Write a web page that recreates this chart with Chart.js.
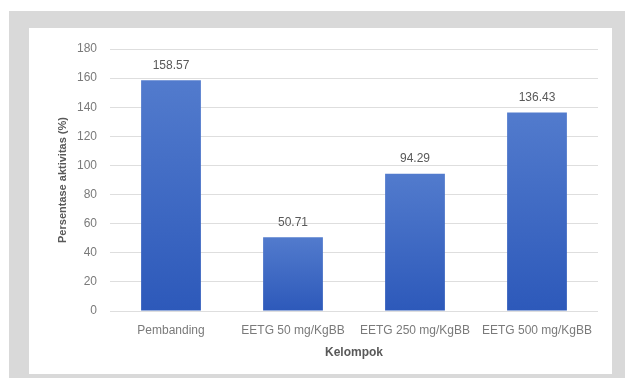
<!DOCTYPE html>
<html>
<head>
<meta charset="utf-8">
<script src="https://cdn.jsdelivr.net/npm/chart.js@4/dist/chart.umd.min.js"></script>
<style>
  html,body{margin:0;padding:0;background:#fff;}
  #frame{position:absolute;left:9px;top:11px;width:616px;height:367px;background:#d9d9d9;}
  #panel{position:absolute;left:20px;top:17px;width:583px;height:346px;background:#fff;}
  #chart{display:block;}
</style>
</head>
<body>
<div id="frame"><div id="panel"><canvas id="chart" width="583" height="346"></canvas></div></div>
<script>
const CATEGORIES = ['Pembanding', 'EETG 50 mg/KgBB', 'EETG 250 mg/KgBB', 'EETG 500 mg/KgBB'];
const VALUES = [158.57, 50.71, 94.29, 136.43];
const Y_TICKS = {min: 0, max: 180, step: 20};

const FONT = "'Liberation Sans', Arial, sans-serif";

// gradient per bar: light at the top, darker at the base
function barGradient(c){
  const chart = c.chart, area = chart.chartArea;
  if(!area || c.dataIndex === undefined) return '#3f67c4';
  const y = chart.scales.y;
  const top = y.getPixelForValue(VALUES[c.dataIndex]);
  const g = chart.ctx.createLinearGradient(0, top, 0, y.getPixelForValue(0));
  g.addColorStop(0, '#527bcd');
  g.addColorStop(1, '#2d59ba');
  return g;
}

// value labels above the bars
const valueLabels = {
  id: 'valueLabels',
  afterDatasetsDraw(chart){
    const ctx = chart.ctx;
    const meta = chart.getDatasetMeta(0);
    ctx.save();
    ctx.font = '12px ' + FONT;
    ctx.fillStyle = '#595959';
    ctx.textAlign = 'center';
    ctx.textBaseline = 'middle';
    meta.data.forEach((bar, i)=>{
      ctx.fillText(VALUES[i].toFixed(2), bar.x, bar.y - 15);
    });
    ctx.restore();
  }
};

new Chart(document.getElementById('chart'), {
  type: 'bar',
  data: {
    labels: CATEGORIES,
    datasets: [{data: VALUES, backgroundColor: barGradient, categoryPercentage: 1, barPercentage: 0.49}]
  },
  options: {
    responsive: false,
    animation: false,
    layout: {padding: {left: 0, right: 14, top: 21, bottom: 0}},
    plugins: {legend: {display: false}, tooltip: {enabled: false}},
    scales: {
      x: {
        grid: {display: false},
        border: {display: false},
        ticks: {color: '#7a7a7a', font: {family: FONT, size: 12}, padding: 4, maxRotation: 0, autoSkip: false},
        title: {display: true, text: 'Kelompok', color: '#595959', font: {family: FONT, size: 12, weight: 'bold'}, padding: {top: 0, bottom: 14}},
        afterFit: s => { s.height = 63; }
      },
      y: {
        min: Y_TICKS.min, max: Y_TICKS.max,
        grid: {color: '#dedede', drawTicks: false},
        border: {display: false},
        ticks: {stepSize: Y_TICKS.step, color: '#7a7a7a', font: {family: FONT, size: 12}, padding: 13},
        title: {display: true, text: 'Persentase aktivitas (%)', color: '#595959', font: {family: FONT, size: 11, weight: 'bold'}, padding: {top: 27, bottom: 0}},
        afterFit: s => { s.width = 81; }
      }
    }
  },
  plugins: [valueLabels]
});
</script>
</body>
</html>
